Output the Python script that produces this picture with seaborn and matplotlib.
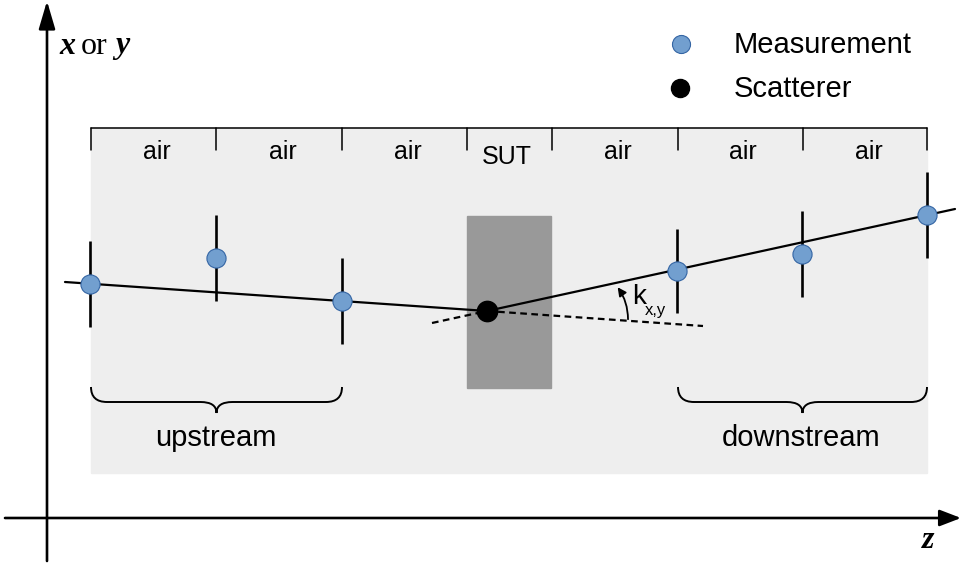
import matplotlib
matplotlib.use('Agg')
import matplotlib.pyplot as plt
import seaborn as sns
import pandas as pd
from matplotlib.patches import Rectangle, PathPatch, FancyArrowPatch
from matplotlib.path import Path

# ---- values (pixel space, y grows downward) ----
zone_labels = ['air', 'air', 'air', 'SUT', 'air', 'air', 'air']
zone_edges = [91, 216, 342, 467, 552, 678, 803, 927]
zone_label_z = [157, 283, 408, 507, 618, 743, 869]

meas_z = [90, 216, 342, 677, 802, 927]
meas_pos = [284, 258, 301, 271, 254, 215]
meas_err = [43, 43, 43, 42, 43, 43]

scat_z = [487]
scat_pos = [311]

up_track_z = [65, 487]
up_track_pos = [282, 311]
down_track_z = [487, 955]
down_track_pos = [311, 209]
up_ext_z = [487, 703]
up_ext_pos = [311, 326]
down_ext_z = [432, 487]
down_ext_pos = [323, 311]

braces = [('upstream', 91, 342), ('downstream', 678, 927)]

BLUE = '#729fcf'
BLUE_EDGE = '#3465a4'

sns.set_style('white')
plt.rcParams['font.family'] = ['Liberation Sans', 'DejaVu Sans']
plt.rcParams['text.color'] = 'black'

fig = plt.figure(figsize=(9.61, 5.67), dpi=100)
ax = fig.add_axes([0, 0, 1, 1])
ax.set_xlim(0, 961)
ax.set_ylim(567, 0)
ax.axis('off')

# background region and sample under test
ax.add_patch(Rectangle((91, 128), 927 - 91, 473 - 128, color='#eeeeee', zorder=0))
ax.add_patch(Rectangle((467, 216), 551 - 467, 388 - 216, color='#999999', zorder=1))

# zone bracket along the top
ax.plot([zone_edges[0], zone_edges[-1]], [128, 128], color='black', lw=1.1, zorder=2)
for e in zone_edges:
    ax.plot([e, e], [128, 150], color='black', lw=1.1, zorder=2)
for zc, lab in zip(zone_label_z, zone_labels):
    ax.text(zc, 157 if lab == 'SUT' else 152, lab, ha='center', va='center', fontsize=18)

# coordinate axes
ax.annotate('', xy=(47, 1), xytext=(47, 561), annotation_clip=False,
            arrowprops=dict(arrowstyle='-|>,head_length=1.7,head_width=0.5', lw=1.9,
                            color='black', shrinkA=0, shrinkB=0))
ax.annotate('', xy=(961, 518), xytext=(5, 518), annotation_clip=False,
            arrowprops=dict(arrowstyle='-|>,head_length=1.3,head_width=0.5', lw=1.9,
                            color='black', shrinkA=0, shrinkB=0))
serif = ['Liberation Serif', 'DejaVu Serif']
ax.text(59, 46, 'x', family=serif, fontsize=23, fontweight='bold', style='italic', va='center')
ax.text(81, 46, 'or', family=serif, fontsize=23, va='center')
ax.text(115, 46, 'y', family=serif, fontsize=23, fontweight='bold', style='italic', va='center')
ax.text(928, 541, 'z', family=serif, fontsize=23, fontweight='bold', style='italic',
        ha='center', va='center')

# tracks
sns.lineplot(x=up_track_z, y=up_track_pos, sort=False, color='black', lw=1.6, ax=ax, zorder=3)
sns.lineplot(x=down_track_z, y=down_track_pos, sort=False, color='black', lw=1.6, ax=ax, zorder=3)
sns.lineplot(x=up_ext_z, y=up_ext_pos, sort=False, color='black', lw=1.6, ls=(0, (3, 2)), ax=ax, zorder=3)
sns.lineplot(x=down_ext_z, y=down_ext_pos, sort=False, color='black', lw=1.6, ls=(0, (3, 2)), ax=ax, zorder=3)

# measurements with error bars
ax.errorbar(meas_z, meas_pos, yerr=meas_err, fmt='none', ecolor='black', elinewidth=1.9, zorder=4)
df = pd.DataFrame({'z': meas_z, 'pos': meas_pos})
sns.scatterplot(data=df, x='z', y='pos', s=190, color=BLUE, edgecolor=BLUE_EDGE,
                linewidth=0.8, ax=ax, zorder=5)
sns.scatterplot(x=scat_z, y=scat_pos, s=210, color='black', edgecolor='black', ax=ax, zorder=6)

# kink angle
ax.add_patch(FancyArrowPatch((628, 322), (616, 285), connectionstyle='arc3,rad=0.18',
                             arrowstyle='-|>,head_length=5,head_width=2.5', lw=1.3,
                             color='black', zorder=4))
ax.text(632, 297, 'k', fontsize=20, va='center')
ax.text(645, 311, 'x,y', fontsize=12, va='center')

# braces
for lab, x0, x1 in braces:
    xm = (x0 + x1) / 2
    y0, y1, y2, r = 387, 402, 413, 16
    verts = [(x0, y0), (x0, y1), (x0 + r, y1), (xm - r, y1), (xm, y1), (xm, y2),
             (xm, y1), (xm + r, y1), (x1 - r, y1), (x1, y1), (x1, y0)]
    codes = [Path.MOVETO, Path.CURVE3, Path.CURVE3, Path.LINETO, Path.CURVE3, Path.CURVE3,
             Path.CURVE3, Path.CURVE3, Path.LINETO, Path.CURVE3, Path.CURVE3]
    ax.add_patch(PathPatch(Path(verts, codes), fill=False, lw=1.4, ec='black', zorder=2))
    ax.text(xm - 1, 438, lab, ha='center', va='center', fontsize=21)

# legend
ax.plot([681], [44], 'o', ms=13, color=BLUE, mec=BLUE_EDGE, mew=0.8)
ax.plot([680], [88], 'o', ms=13, color='black')
ax.text(734, 45, 'Measurement', va='center', fontsize=21)
ax.text(734, 89, 'Scatterer', va='center', fontsize=21)

fig.savefig('out.png', dpi=100)
